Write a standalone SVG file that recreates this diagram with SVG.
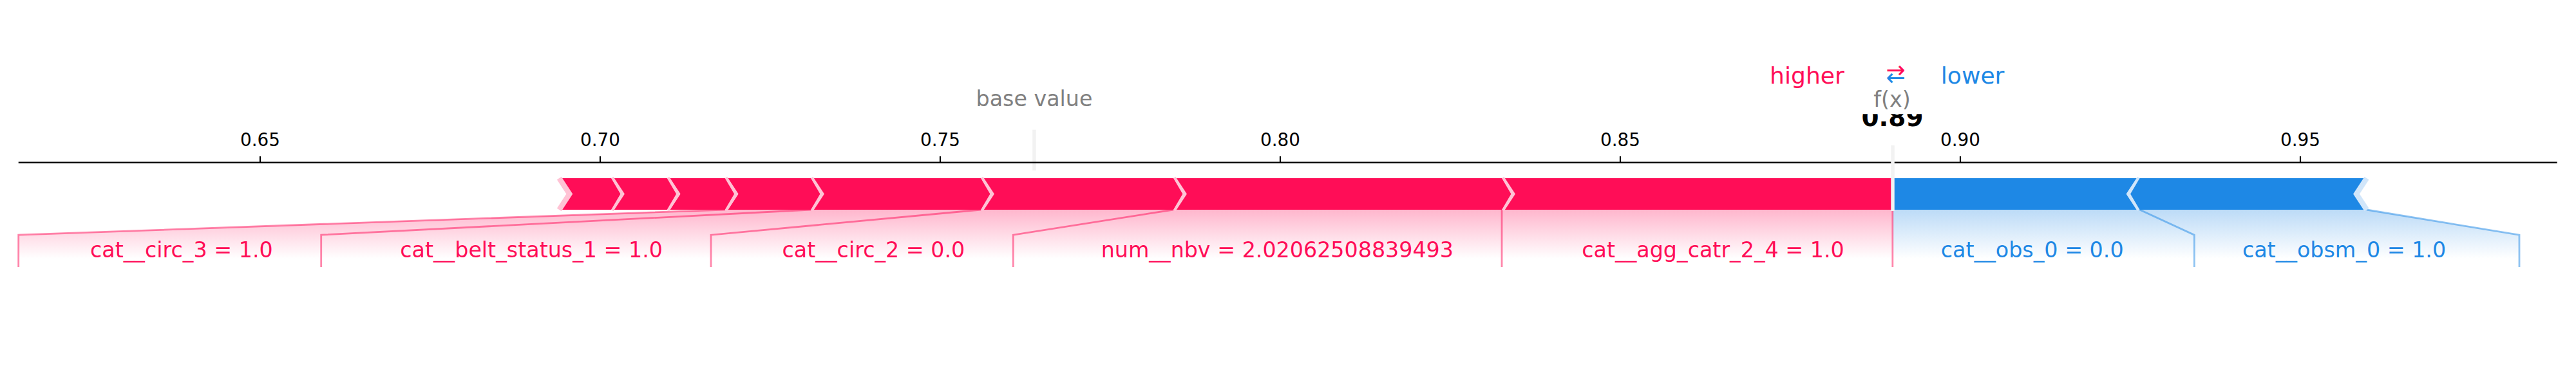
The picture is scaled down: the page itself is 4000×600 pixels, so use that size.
<svg xmlns="http://www.w3.org/2000/svg" width="4000" height="600" viewBox="0 0 4000 600">
<style>
text{font-family:"DejaVu Sans","Liberation Sans",sans-serif}
.tick{font-size:27.8px;fill:#000;text-anchor:middle}
.tk{stroke:#000;stroke-width:2.2}
.pos{fill:#FF0D57}
.neg{fill:#1E88E5}
.psep{fill:none;stroke:#FFC3D5;stroke-width:8.3;stroke-linejoin:miter;stroke-linecap:butt}
.nsep{fill:none;stroke:#D1E6FA;stroke-width:8.3;stroke-linejoin:miter;stroke-linecap:butt}
.pl{fill:none;stroke:#FF0D57;stroke-opacity:0.5;stroke-width:2.8}
.nl{fill:none;stroke:#1E88E5;stroke-opacity:0.5;stroke-width:2.8}
.lab{font-size:33.3px}
.plab{fill:#FF0D57;text-anchor:end}
.nlab{fill:#1E88E5;text-anchor:start}
.gray{font-size:33.3px;fill:#808080;text-anchor:middle}
.vline{stroke:#F2F2F2;stroke-width:5.5}
</style>
<defs>
<linearGradient id="gp" gradientUnits="userSpaceOnUse" x1="0" y1="326" x2="0" y2="402">
<stop offset="0" stop-color="#FFB6CD"/><stop offset="1" stop-color="#FFFFFF"/>
</linearGradient>
<linearGradient id="gn" gradientUnits="userSpaceOnUse" x1="0" y1="326" x2="0" y2="402">
<stop offset="0" stop-color="#BCDBF7"/><stop offset="1" stop-color="#FFFFFF"/>
</linearGradient>
<clipPath id="outclip"><rect x="2850" y="177.3" width="180" height="40"/></clipPath>
</defs>
<rect width="4000" height="600" fill="#FFFFFF"/>

<g id="shading">
<polygon points="2938.8,326 1125.7,326 28.7,365.2 28.7,424 2938.8,424" fill="url(#gp)"/>
<polygon points="2938.8,326 3675,326 3912,365.2 3912,424 2938.8,424" fill="url(#gn)"/>
</g>

<g id="base-value-line"><line class="vline" x1="1606" y1="201.7" x2="1606" y2="265"/></g>

<g id="axis">
<line x1="28.7" y1="252.7" x2="3970.7" y2="252.7" stroke="#000" stroke-width="2.2"/>
<line class="tk" x1="404" y1="243" x2="404" y2="252.7"/>
<line class="tk" x1="932" y1="243" x2="932" y2="252.7"/>
<line class="tk" x1="1460" y1="243" x2="1460" y2="252.7"/>
<line class="tk" x1="1988" y1="243" x2="1988" y2="252.7"/>
<line class="tk" x1="2516" y1="243" x2="2516" y2="252.7"/>
<line class="tk" x1="3044" y1="243" x2="3044" y2="252.7"/>
<line class="tk" x1="3572" y1="243" x2="3572" y2="252.7"/>
<text class="tick" x="404" y="226.7">0.65</text>
<text class="tick" x="932" y="226.7">0.70</text>
<text class="tick" x="1460" y="226.7">0.75</text>
<text class="tick" x="1988" y="226.7">0.80</text>
<text class="tick" x="2516" y="226.7">0.85</text>
<text class="tick" x="3044" y="226.7">0.90</text>
<text class="tick" x="3572" y="226.7">0.95</text>
</g>

<g id="connectors">
<polyline class="pl" points="2938.8,326 2938.8,415"/>
<polyline class="pl" points="2332,326 2332,415"/>
<polyline class="pl" points="1822,326 1573.3,365.2 1573.3,415"/>
<polyline class="pl" points="1523,326 1104,365.2 1104,415"/>
<polyline class="pl" points="1259,326 498.7,365.2 498.7,415"/>
<polyline class="pl" points="1125.7,326 28.7,365.2 28.7,415"/>
<polyline class="nl" points="3322.5,326 3407.3,365.2 3407.3,415"/>
<polyline class="nl" points="3675,326 3912,365.2 3912,415"/>
</g>

<g id="feature-cat__agg_catr_2_4">
<polygon class="pos" points="2332,326 2938.8,326 2938.8,277 2332,277 2348,301.5"/>
<polyline class="psep" points="2332,326 2348,301.5 2332,277"/>
<text class="lab plab" x="2863.8" y="400">cat__agg_catr_2_4 = 1.0</text>
</g>
<g id="feature-num__nbv">
<polygon class="pos" points="1822,326 2332,326 2346.4,301.5 2332,277 1822,277 1836.4,301.5"/>
<polyline class="psep" points="1822,326 1838,301.5 1822,277"/>
<text class="lab plab" x="2257" y="400">num__nbv = 2.02062508839493</text>
</g>
<g id="feature-cat__circ_2">
<polygon class="pos" points="1523,326 1822,326 1836.4,301.5 1822,277 1523,277 1537.4,301.5"/>
<polyline class="psep" points="1523,326 1539,301.5 1523,277"/>
<text class="lab plab" x="1498.3" y="400">cat__circ_2 = 0.0</text>
</g>
<g id="feature-cat__belt_status_1">
<polygon class="pos" points="1259,326 1523,326 1537.4,301.5 1523,277 1259,277 1273.4,301.5"/>
<polyline class="psep" points="1259,326 1275,301.5 1259,277"/>
<text class="lab plab" x="1029" y="400">cat__belt_status_1 = 1.0</text>
</g>
<g id="feature-cat__circ_3">
<polygon class="pos" points="1125.7,326 1259,326 1273.4,301.5 1259,277 1125.7,277 1140.1,301.5"/>
<polyline class="psep" points="1125.7,326 1141.7,301.5 1125.7,277"/>
<text class="lab plab" x="423.7" y="400">cat__circ_3 = 1.0</text>
</g>
<g id="feature-small-1">
<polygon class="pos" points="1035.7,326 1125.7,326 1140.1,301.5 1125.7,277 1035.7,277 1050.1,301.5"/>
<polyline class="psep" points="1035.7,326 1051.7,301.5 1035.7,277"/>
</g>
<g id="feature-small-2">
<polygon class="pos" points="949,326 1035.7,326 1050.1,301.5 1035.7,277 949,277 963.4,301.5"/>
<polyline class="psep" points="949,326 965,301.5 949,277"/>
</g>
<g id="feature-small-3">
<polygon class="pos" points="868.3,326 949,326 963.4,301.5 949,277 868.3,277 882.7,301.5"/>
<polyline class="psep" points="868.3,326 884.3,301.5 868.3,277"/>
</g>

<g id="feature-cat__obs_0">
<polygon class="neg" points="3322.5,326 2938.8,326 2938.8,277 3322.5,277 3306.5,301.5"/>
<polyline class="nsep" points="3322.5,326 3306.5,301.5 3322.5,277"/>
<text class="lab nlab" x="3013.8" y="400">cat__obs_0 = 0.0</text>
</g>
<g id="feature-cat__obsm_0">
<polygon class="neg" points="3322.5,326 3675,326 3660.6,301.5 3675,277 3322.5,277 3308.1,301.5"/>
<polyline class="nsep" points="3675,326 3659,301.5 3675,277"/>
<text class="lab nlab" x="3481.9" y="400">cat__obsm_0 = 1.0</text>
</g>

<g id="output-value">
<line class="vline" x1="2939" y1="226" x2="2939" y2="328"/>
<text x="2938.5" y="196" clip-path="url(#outclip)" font-size="38.9" font-weight="bold" text-anchor="middle" fill="#000">0.89</text>
<text class="gray" x="2938" y="166">f(x)</text>
</g>

<g id="base-value"><text class="gray" x="1606" y="165">base value</text></g>

<g id="legend">
<text x="2863.8" y="129.5" font-size="36.1" fill="#FF0D57" text-anchor="end">higher</text>
<text x="3013.8" y="129.5" font-size="36.1" fill="#1E88E5">lower</text>
<text font-size="36.1" text-anchor="middle"><tspan x="2943.7" y="121" fill="#FF0D57">→</tspan><tspan x="2943.7" y="132.5" fill="#1E88E5">←</tspan></text>
</g>
</svg>
